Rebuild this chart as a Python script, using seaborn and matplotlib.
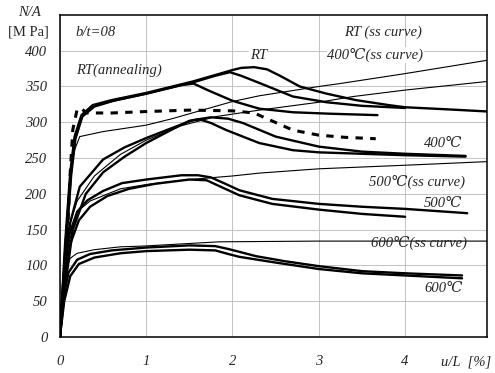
import matplotlib
matplotlib.use("Agg")
import matplotlib.pyplot as plt
import seaborn as sns

# ---- curve data: strain u/L [%] and stress N/A [MPa] ----
# room temperature, thick test curves
rt_a_x = [0, 0.06, 0.12, 0.17, 0.25, 0.38, 0.6, 1.0, 1.54, 1.8, 2.0, 2.1, 2.25, 2.4, 2.55, 2.78, 3.09, 3.43, 3.81, 4.0, 4.5, 4.97]
rt_a_y = [0, 130, 230, 280, 310, 324, 331, 341, 357, 366, 373, 376, 377, 374, 365, 350, 340, 331, 324, 321, 318, 315]
rt_b_x = [0, 0.07, 0.13, 0.18, 0.26, 0.4, 0.62, 1.0, 1.55, 1.8, 1.97, 2.1, 2.31, 2.7, 3.09, 3.5, 4.0]
rt_b_y = [0, 125, 225, 277, 308, 322, 330, 340, 356, 365, 370, 365, 355, 336, 328, 323, 320]
rt_c_x = [0, 0.065, 0.125, 0.175, 0.255, 0.39, 0.61, 1.0, 1.4, 1.55, 1.73, 2.0, 2.31, 2.7, 3.12, 3.68]
rt_c_y = [0, 128, 228, 278, 309, 323, 330, 340, 352, 354, 344, 330, 319, 314, 312, 310]

# room temperature, annealed specimen (dashed)
ann_x = [0, 0.08, 0.12, 0.15, 0.2, 0.24, 0.31, 0.6, 1.0, 1.5, 2.0, 2.25, 2.4, 2.7, 3.0, 3.3, 3.66]
ann_y = [0, 120, 230, 290, 318, 320, 313, 313, 315, 317, 316, 313, 305, 289, 282, 279, 277]

# room temperature, material stress-strain curve
rtss_x = [0, 0.05, 0.1, 0.15, 0.23, 0.5, 1.0, 1.3, 1.65, 2.0, 2.31, 3.0, 3.24, 4.0, 4.97]
rtss_y = [0, 110, 200, 255, 280, 287, 296, 305, 317, 329, 337, 350, 354, 368, 387]

# 400 degC
t400_a_x = [0, 0.05, 0.12, 0.23, 0.5, 0.75, 1.0, 1.3, 1.54, 1.75, 1.95, 2.12, 2.5, 3.0, 3.5, 4.0, 4.7]
t400_a_y = [0, 80, 160, 210, 248, 265, 278, 292, 303, 307, 305, 299, 280, 266, 259, 256, 253]
t400_b_x = [0, 0.06, 0.15, 0.3, 0.5, 0.75, 1.0, 1.3, 1.5, 1.62, 1.75, 1.93, 2.31, 2.7, 3.0, 3.5, 4.0, 4.7]
t400_b_y = [0, 70, 150, 200, 230, 252, 271, 290, 302, 304, 299, 289, 271, 261, 258, 256, 254, 252]
t400ss_x = [0, 0.06, 0.12, 0.2, 0.4, 0.7, 1.0, 1.4, 1.81, 2.31, 3.0, 3.4, 4.0, 4.95]
t400ss_y = [0, 100, 160, 190, 225, 255, 275, 295, 308, 317, 328, 336, 345, 357]

# 500 degC
t500_a_x = [0, 0.04, 0.1, 0.2, 0.32, 0.5, 0.72, 1.0, 1.41, 1.6, 1.75, 1.9, 2.08, 2.46, 3.0, 3.5, 4.0, 4.72]
t500_a_y = [0, 80, 140, 175, 191, 204, 215, 220, 226, 226, 223, 215, 205, 193, 186, 182, 179, 173]
t500_b_x = [0, 0.05, 0.12, 0.22, 0.35, 0.55, 0.8, 1.1, 1.5, 1.7, 1.88, 2.08, 2.46, 3.0, 3.5, 4.0]
t500_b_y = [0, 70, 130, 163, 182, 197, 207, 214, 220, 219, 209, 198, 186, 178, 172, 168]
t500ss_x = [0, 0.08, 0.2, 0.35, 0.7, 1.0, 1.5, 2.0, 2.31, 3.0, 4.0, 4.95]
t500ss_y = [0, 120, 175, 190, 207, 213, 220, 225, 229, 235, 240, 245]

# 600 degC
t600_a_x = [0, 0.04, 0.1, 0.2, 0.35, 0.6, 1.0, 1.5, 1.8, 1.95, 2.08, 2.27, 2.6, 3.0, 3.5, 4.0, 4.66]
t600_a_y = [0, 55, 90, 108, 116, 121, 125, 128, 127, 123, 119, 113, 106, 99, 92, 89, 86]
t600_b_x = [0, 0.05, 0.12, 0.22, 0.4, 0.7, 1.0, 1.5, 1.8, 1.95, 2.08, 2.5, 3.0, 3.5, 4.0, 4.66]
t600_b_y = [0, 50, 85, 102, 111, 117, 120, 122, 121, 116, 112, 104, 95, 89, 86, 82]
t600ss_x = [0, 0.03, 0.07, 0.12, 0.2, 0.4, 0.7, 0.96, 1.4, 1.85, 3.0, 4.95]
t600ss_y = [0, 60, 95, 110, 117, 122, 126, 127, 130, 133, 134, 134]

x_ticks = [0, 1, 2, 3, 4]
y_ticks = [0, 50, 100, 150, 200, 250, 300, 350, 400]

sns.set_theme(style="whitegrid")
serif = ["Liberation Serif", "DejaVu Serif"]
plt.rcParams["font.family"] = serif

fig = plt.figure(figsize=(4.95, 3.73), dpi=100)
ax = fig.add_axes([0.121, 0.0965, 0.863, 0.8635])

thick = dict(color="black", linewidth=1.7, estimator=None, sort=False, ax=ax,
             solid_joinstyle="round", solid_capstyle="round")
thin = dict(color="black", linewidth=0.8, estimator=None, sort=False, ax=ax,
            solid_joinstyle="round")

for xs, ys in [(rtss_x, rtss_y), (t400ss_x, t400ss_y), (t500ss_x, t500ss_y), (t600ss_x, t600ss_y)]:
    sns.lineplot(x=xs, y=ys, **thin)

for xs, ys in [(rt_a_x, rt_a_y), (rt_b_x, rt_b_y), (rt_c_x, rt_c_y),
               (t400_a_x, t400_a_y), (t400_b_x, t400_b_y),
               (t500_a_x, t500_a_y), (t500_b_x, t500_b_y),
               (t600_a_x, t600_a_y), (t600_b_x, t600_b_y)]:
    sns.lineplot(x=xs, y=ys, **thick)

sns.lineplot(x=ann_x, y=ann_y, color="black", linewidth=2.2, estimator=None,
             sort=False, ax=ax, linestyle=(0, (2.4, 2.4)))

ax.set_xlim(0, 4.95)
ax.set_ylim(0, 450)
ax.set_xticks(x_ticks)
ax.set_yticks(y_ticks)
ax.set_xticklabels([str(v) for v in x_ticks], fontsize=10.5, style="italic")
ax.set_yticklabels([str(v) for v in y_ticks], fontsize=10.5, style="italic")
ax.tick_params(axis="x", pad=13, length=0)
ax.tick_params(axis="y", pad=9, length=0)
ax.grid(True, color="#b8b8b8", linewidth=0.6)
for s in ax.spines.values():
    s.set_color("black")
    s.set_linewidth(1.1)
ax.set_xlabel("")
ax.set_ylabel("")

# axis titles
fig.text(29 / 495, 1 - 13 / 373, "N/A", ha="center", va="center", fontsize=10.5, style="italic")
fig.text(28 / 495, 1 - 32 / 373, "[M Pa]", ha="center", va="center", fontsize=10.5)
fig.text(466 / 495, 1 - 362 / 373, "u/L  [%]", ha="center", va="center", fontsize=10.5, style="italic")

lab = dict(fontsize=10.5, style="italic", va="center", ha="left")
box = dict(facecolor="white", edgecolor="none", pad=0.5)
ax.text(0.185, 426, "b/t=08", **lab)
ax.text(0.185, 373, "RT(annealing)", **lab)
ax.text(3.29, 426, "RT (ss curve)", **lab)
ax.text(2.3, 394, "RT", fontsize=10.5, style="italic", va="center", ha="center", bbox=box)
ax.text(3.1, 394, "400\u2103(ss curve)", bbox=box, **lab)
ax.text(4.22, 271, "400\u2103", **lab)
ax.text(3.58, 217, "500\u2103(ss curve)", **lab)
ax.text(4.22, 187, "500\u2103", **lab)
ax.text(3.6, 131, "600\u2103(ss curve)", **lab)
ax.text(4.22, 68, "600\u2103", **lab)

fig.savefig("out.png", dpi=100)
